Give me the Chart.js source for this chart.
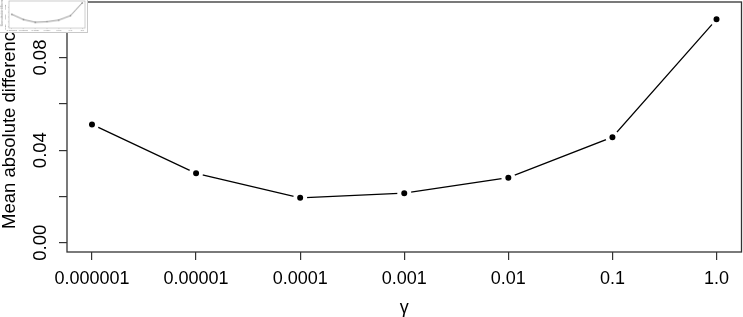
<!DOCTYPE html>
<html><head><meta charset="utf-8">
<script src="https://cdn.jsdelivr.net/npm/chart.js@4/dist/chart.umd.min.js"></script>
<style>
html,body{margin:0;padding:0;background:#fff;overflow:hidden}
#wrap{position:relative;width:743px;height:317px}
#main{position:absolute;left:0;top:0}
#mini{position:absolute;left:0;top:0;background:#fff;border-right:1px solid #c8c8c8;border-bottom:1px solid #c8c8c8}
</style></head><body>
<div id="wrap"><canvas id="main" width="743" height="317"></canvas><canvas id="mini" width="88" height="33"></canvas></div>
<script>
const categories = ['0.000001','0.00001','0.0001','0.001','0.01','0.1','1.0'];
const meanAbsDiff = [0.0511, 0.0300, 0.0194, 0.0214, 0.0281, 0.0456, 0.0965];
const yTickValues = [0, 0.02, 0.04, 0.06, 0.08];
const yTickLabels = ['0.00', '', '0.04', '', '0.08'];
const xLabel = 'γ';
const yLabel = 'Mean absolute difference';

const FONT = "'Liberation Sans', Arial, Helvetica, sans-serif";
const points = meanAbsDiff.map((v, i) => ({x: i + 1, y: v}));

function boxPlugin(color, width) {
  return {id: 'box', afterDraw(chart) {
    const {ctx, chartArea: a} = chart;
    ctx.save(); ctx.strokeStyle = color; ctx.lineWidth = width;
    ctx.strokeRect(a.left, a.top, a.right - a.left, a.bottom - a.top);
    ctx.restore();
  }};
}
function yLabelPlugin(x, y, size, color) {
  return {id: 'ylab', afterDraw(chart) {
    const ctx = chart.ctx; ctx.save();
    ctx.translate(x, y); ctx.rotate(-Math.PI / 2);
    ctx.font = size + 'px ' + FONT; ctx.fillStyle = color;
    ctx.textAlign = 'left'; ctx.textBaseline = 'alphabetic';
    ctx.fillText(yLabel, 0, 0); ctx.restore();
  }};
}
function noPad(s) { s.paddingTop = 0; s.paddingBottom = 0; s.paddingLeft = 0; s.paddingRight = 0; }

new Chart(document.getElementById('main'), {
  type: 'line',
  data: {datasets: [{data: points, borderColor: '#000', borderWidth: 1.3, tension: 0,
    pointRadius: 5, pointHoverRadius: 5, pointBackgroundColor: '#000',
    pointBorderColor: '#fff', pointBorderWidth: 4, clip: false}]},
  options: {
    responsive: false, animation: false, devicePixelRatio: 1,
    layout: {autoPadding: false, padding: {left: 0, right: 1.5, top: 2, bottom: 0}},
    plugins: {legend: {display: false}, tooltip: {enabled: false}},
    scales: {
      x: {type: 'linear', min: 0.76, max: 7.24,
        afterBuildTicks: s => { s.ticks = categories.map((c, i) => ({value: i + 1})); },
        afterFit: s => { s.height = 65; noPad(s); },
        ticks: {callback: (v, i) => categories[i], font: {family: FONT, size: 18}, color: '#000',
          padding: 8, maxRotation: 0, minRotation: 0, autoSkip: false},
        grid: {drawOnChartArea: false, drawTicks: true, tickLength: 8, color: '#333', lineWidth: 1.2},
        border: {display: false},
        title: {display: true, text: xLabel, font: {family: FONT, size: 18}, color: '#000', padding: {top: 0, bottom: -1.5}}
      },
      y: {type: 'linear', min: -0.004, max: 0.104,
        afterBuildTicks: s => { s.ticks = yTickValues.map(v => ({value: v})); },
        afterFit: s => { s.width = 67; noPad(s); },
        ticks: {callback: (v, i) => yTickLabels[i], font: {family: FONT, size: 18.5}, color: '#000',
          minRotation: 90, maxRotation: 90, padding: 0, crossAlign: 'center', autoSkip: false},
        grid: {drawOnChartArea: false, drawTicks: true, tickLength: 8, color: '#333', lineWidth: 1.2},
        border: {display: false}
      }
    }
  },
  plugins: [boxPlugin('#333', 1.3), yLabelPlugin(15, 229, 18.5, '#000')]
});

new Chart(document.getElementById('mini'), {
  type: 'line',
  data: {datasets: [{data: points, borderColor: '#777', borderWidth: 0.8, tension: 0,
    pointRadius: 0.7, pointBackgroundColor: '#666', pointBorderWidth: 0, clip: false}]},
  options: {
    responsive: false, animation: false, devicePixelRatio: 1,
    layout: {autoPadding: false, padding: {left: 0, right: 2, top: 1, bottom: 0}},
    plugins: {legend: {display: false}, tooltip: {enabled: false}},
    scales: {
      x: {type: 'linear', min: 0.76, max: 7.24,
        afterBuildTicks: s => { s.ticks = categories.map((c, i) => ({value: i + 1})); },
        afterFit: s => { s.height = 4; noPad(s); },
        ticks: {callback: (v, i) => categories[i], font: {family: FONT, size: 2.5}, color: '#666',
          padding: 0, maxRotation: 0, minRotation: 0, autoSkip: false},
        grid: {drawOnChartArea: false, drawTicks: true, tickLength: 1, color: '#aaa', lineWidth: 0.5},
        border: {display: false}
      },
      y: {type: 'linear', min: -0.004, max: 0.104,
        afterBuildTicks: s => { s.ticks = yTickValues.map(v => ({value: v})); },
        afterFit: s => { s.width = 9; noPad(s); },
        ticks: {callback: (v, i) => yTickLabels[i], font: {family: FONT, size: 2.5}, color: '#666',
          minRotation: 90, maxRotation: 90, padding: 0, crossAlign: 'center', autoSkip: false},
        grid: {drawOnChartArea: false, drawTicks: true, tickLength: 1, color: '#aaa', lineWidth: 0.5},
        border: {display: false}
      }
    }
  },
  plugins: [boxPlugin('#aaa', 0.6), yLabelPlugin(2.5, 27, 2.6, '#888')]
});
</script>
</body></html>
